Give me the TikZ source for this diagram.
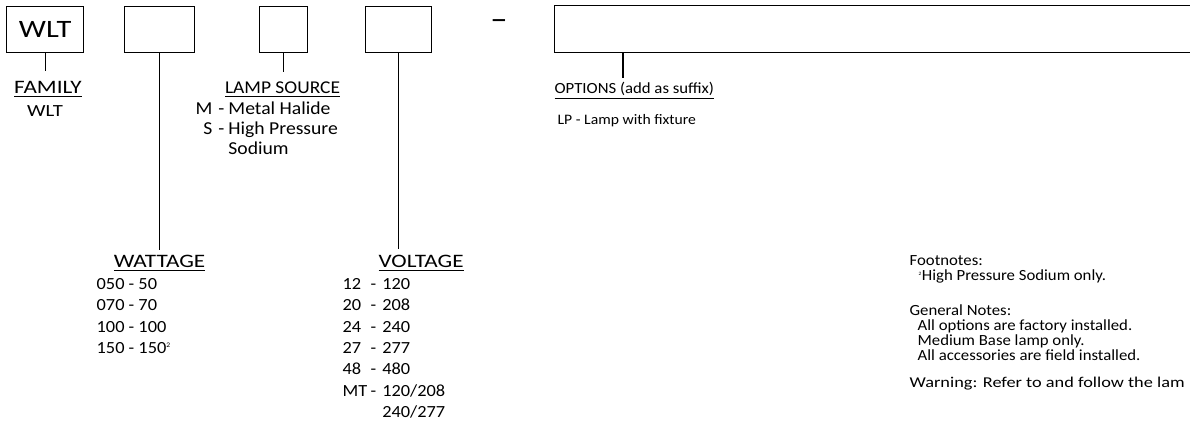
\documentclass[tikz,border=0pt]{standalone}
\usepackage{fontspec}
\setmainfont{Carlito}[FakeStretch=1.08]
\newfontfamily\titrefont{Carlito}[FakeStretch=1.22]
\usetikzlibrary{positioning}

\newcommand\souligne[1]{\leavevmode\vtop{\hbox{#1}\kern2.5pt\hrule height 1.2pt}}

\tikzset{
  codebox/.style={draw, line width=1.3pt, minimum height=46pt, inner sep=0pt},
  titre/.style={inner sep=0pt, font=\titrefont\fontsize{19}{20}\selectfont},
  liste/.style={inner sep=0pt, anchor=north west, font=\fontsize{17}{21.3}\selectfont},
  notes/.style={inner sep=0pt, anchor=north west, font=\fontsize{15.5}{14.5}\selectfont},
}

\begin{document}
\begin{tikzpicture}[x=1pt,y=-1pt,line width=1.3pt]
            \useasboundingbox (0,0) rectangle (1190,424);
            \clip (0,0) rectangle (1190,424);

            % Cases du code
            \node[codebox, minimum width=77pt, anchor=north west, font=\titrefont\fontsize{25}{25}\selectfont] (wlt) at (6,6) {WLT};
            \node[codebox, minimum width=70pt, anchor=north west] (cwatt) at (124,6) {};
            \node[codebox, minimum width=48pt, anchor=north west] (clamp) at (259,6) {};
            \node[codebox, minimum width=66pt, anchor=north west] (cvolt) at (365,6) {};
            \node[font=\fontsize{32}{32}\selectfont, inner sep=0pt] (tiret) at (499,25) {\textendash};
            \node[codebox, minimum width=700pt, minimum height=47pt, anchor=north west] (copt) at (554,5) {};
            \coordinate (popt) at (623,52);

            % Titres
            \node[titre, anchor=base] (fam) at (48,93) {\souligne{FAMILY}};
            \node[titre, anchor=base] (watt) at (159.5,267) {\souligne{WATTAGE}};
            \node[titre, anchor=base, font=\fontsize{18}{20}\selectfont] (lamp) at (282.5,93) {\souligne{LAMP SOURCE}};
            \node[titre, anchor=base west] (volt) at (378,267) {\souligne{VOLTAGE}};
            \node[titre, anchor=base west, font=\fontsize{15.5}{18}\selectfont] (opt) at (554,93) {\souligne{OPTIONS (add as suffix)}};

            % Listes
            \node[liste, anchor=base, font=\titrefont\fontsize{17}{20}\selectfont] (lfam) at (45,116) {WLT};
            \node[liste] (lwatt) at (96,274) {\begin{tabular}{@{}l@{}}
              050 - 50\\ 070 - 70\\ 100 - 100\\ 150 - 150\textsuperscript{\scriptsize 2}
            \end{tabular}};
            \node[liste, font=\fontsize{18.2}{20}\selectfont] (llamp) at (195,100) {\begin{tabular}{@{}r@{\hspace{6pt}}c@{\hspace{4pt}}l@{}}
              M & - & Metal Halide\\ S & - & High Pressure\\ & & Sodium
            \end{tabular}};
            \node[liste] (lvolt) at (342,274) {\begin{tabular}{@{}p{28pt}@{}l@{\hspace{6pt}}l@{}}
              12 & - & 120\\ 20 & - & 208\\ 24 & - & 240\\ 27 & - & 277\\ 48 & - & 480\\
              MT & - & 120/208\\ & & 240/277
            \end{tabular}};
            \node[liste, anchor=base west, font=\fontsize{14.5}{18}\selectfont] (lopt) at (557,124) {LP - Lamp with fixture};

            % Notes
            \node[notes] (fnotes) at (909,255) {\begin{tabular}{@{}l@{}}
              Footnotes:\\ \hspace*{9pt}\textsuperscript{\tiny 2}High Pressure Sodium only.
            \end{tabular}};
            \node[notes] (gnotes) at (909,304) {\begin{tabular}{@{}l@{}}
              General Notes:\\ \hspace*{8pt}All options are factory installed.\\
              \hspace*{8pt}Medium Base lamp only.\\ \hspace*{8pt}All accessories are field installed.
            \end{tabular}};
            \node[notes, font=\titrefont\fontsize{15}{14.5}\selectfont] (warn) at (909,376) {Warning: Refer to and follow the lam};

            % Liaisons
            \draw[shorten >=9pt] (wlt.south) -- (wlt.south |- fam.north);
            \draw[shorten >=4pt] (cwatt.south) -- (cwatt.south |- watt.north);
            \draw[shorten >=9pt] (clamp.south) -- (clamp.south |- lamp.north);
            \draw[shorten >=5pt] (cvolt.south) -- (cvolt.south |- volt.north);
            \draw[shorten >=3pt] (popt) -- (popt |- opt.north);
        \end{tikzpicture}
\end{document}
